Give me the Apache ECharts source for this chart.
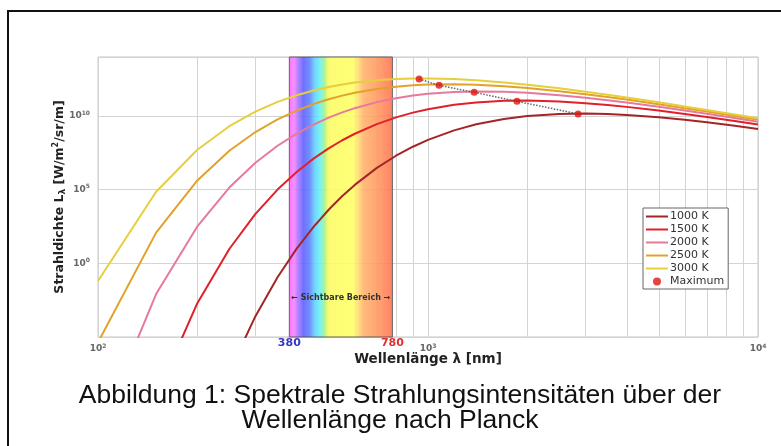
<!DOCTYPE html>
<html><head><meta charset="utf-8">
<script src="https://cdn.jsdelivr.net/npm/echarts@6/dist/echarts.min.js"></script>
<style>html,body{margin:0;padding:0;background:#fff}#c{width:781px;height:446px}</style>
</head><body><div id="c"></div>
<script>
// wavelength samples [nm]
const wavelengths = [100,150,200,250,300,350,400,450,500,550,600,700,800,900,1000,1200,1400,1700,2000,2500,3000,3500,4000,5000,6000,7000,8500,10000];
// spectral radiance values [W/m^2/sr/m]
const radiance1000K = [1.38e-43,1.23e-23,7.59e-14,4.39e-8,2.58e-4,0.113,9.89,298,4.31e3,3.66e4,2.09e5,2.98e6,2.00e7,8.17e7,2.38e8,1.05e9,2.70e9,6.28e9,9.93e9,1.37e10,1.45e10,1.34e10,1.16e10,8.07e9,5.43e9,3.69e9,2.15e9,1.32e9];
const radiance1500K = [9.33e-23,9.33e-10,1.96e-3,9.40,2.26e3,1.01e5,1.59e6,1.27e7,6.31e7,2.24e8,6.19e8,2.81e9,8.02e9,1.68e10,2.88e10,5.74e10,8.32e10,1.06e11,1.10e11,9.55e10,7.41e10,5.55e10,4.13e10,2.33e10,1.38e10,8.57e9,4.56e9,2.62e9];
const radiance2000K = [2.42e-12,8.26e-3,316,1.38e5,6.70e6,9.53e7,6.38e8,2.61e9,7.64e9,1.75e10,3.37e10,8.65e10,1.60e11,2.42e11,3.18e11,4.25e11,4.63e11,4.39e11,3.72e11,2.58e11,1.74e11,1.18e11,8.18e10,4.21e10,2.34e10,1.40e10,7.16e9,4.02e9];
const radiance2500K = [4.29e-6,121,4.21e5,4.36e7,8.11e8,5.82e9,2.33e10,6.40e10,1.36e11,2.40e11,3.72e11,6.76e11,9.70e11,1.20e12,1.34e12,1.42e12,1.31e12,1.04e12,7.87e11,4.81e11,2.99e11,1.93e11,1.29e11,6.25e10,3.38e10,1.97e10,9.84e9,5.43e9];
const radiance3000K = [6.27e-2,7.24e4,5.09e7,2.02e9,1.98e10,9.02e10,2.56e11,5.38e11,9.23e11,1.37e12,1.84e12,2.67e12,3.22e12,3.49e12,3.52e12,3.18e12,2.64e12,1.88e12,1.32e12,7.45e11,4.41e11,2.74e11,1.78e11,8.39e10,4.44e10,2.56e10,1.26e10,6.87e9];
// maxima (Wien)
const maxWavelengths = [940,1080,1380,1860,2850];
const maxValues = [3.2e12,1.2e12,4.0e11,9.8e10,1.38e10];
const seriesNames = ['1000 K','1500 K','2000 K','2500 K','3000 K'];
const maxName = 'Maximum';
const visibleRange = [380, 780];
const visibleLabel = '\u2190 Sichtbare Bereich \u2192';
const visibleLabelValue = 4.4e-3;
const minorGridX = [200,300,400,500,600,700,800,900,2000,3000,4000,5000,6000,7000,8000,9000];
const xRange = [100, 10000];
const yRange = [1e-5, 1e14];
const xAxisTitle = 'Wellenl\u00e4nge \u03bb [nm]';
const yAxisTitle = 'Strahldichte L{sub|\u03bb} [W/m{sup|2}/sr/m]';
const captionLine1 = 'Abbildung 1: Spektrale Strahlungsintensit\u00e4ten \u00fcber der';
const captionLine2 = 'Wellenl\u00e4nge nach Planck';

const colors = ['#a32626','#e0202a','#e7799a','#e2a22a','#e6cf3c'];
const radiance = [radiance1000K, radiance1500K, radiance2000K, radiance2500K, radiance3000K];

const chart = echarts.init(document.getElementById('c'));
const expLabel = v => '10{sup|' + Math.round(Math.log10(v)) + '}';
const supRich = {
  sup: {fontSize: 6, fontWeight: 'bold', color: '#666', padding: [0,0,6,0], fontFamily: 'DejaVu Sans'}
};

const curveSeries = seriesNames.map((n, k) => ({
  name: n, type: 'line', z: 3, symbol: 'none', smooth: false, clip: true,
  lineStyle: {color: colors[k], width: 2}, itemStyle: {color: colors[k]},
  data: wavelengths.map((w, i) => [w, radiance[k][i]])
}));

const bandGradient = new echarts.graphic.LinearGradient(0, 0, 1, 0, [
  {offset: 0, color: '#ff5cff'}, {offset: 0.05, color: '#f580ff'},
  {offset: 0.1, color: '#9570ff'}, {offset: 0.14, color: '#5a5cff'},
  {offset: 0.2, color: '#5f80ff'}, {offset: 0.25, color: '#60cfff'},
  {offset: 0.3, color: '#62f2f2'}, {offset: 0.345, color: '#a8f080'},
  {offset: 0.38, color: '#fbfb62'}, {offset: 0.62, color: '#ffff62'},
  {offset: 0.66, color: '#ffe070'}, {offset: 0.72, color: '#ffb068'},
  {offset: 0.84, color: '#ff9a60'}, {offset: 1, color: '#ff704e'}
]);

chart.setOption({
  animation: false,
  textStyle: {fontFamily: 'DejaVu Sans'},
  grid: {left: 98, right: 23, top: 57, bottom: 109, show: true, borderColor: '#c4c4c4', borderWidth: 1},
  xAxis: {
    type: 'log', logBase: 10, min: xRange[0], max: xRange[1],
    name: xAxisTitle, nameLocation: 'middle', nameGap: 15, nameMoveOverlap: false,
    nameTextStyle: {fontSize: 13.5, fontWeight: 'bold', color: '#222', fontFamily: 'DejaVu Sans'},
    axisLine: {show: false}, axisTick: {show: false},
    splitLine: {show: true, lineStyle: {color: '#d4d4d4', width: 1}},
    axisLabel: {margin: 6, formatter: expLabel, fontSize: 9, fontWeight: 'bold', color: '#666',
      rich: supRich}
  },
  yAxis: {
    type: 'log', logBase: 100000, min: yRange[0], max: yRange[1],
    name: yAxisTitle, nameLocation: 'middle', nameGap: 31, nameRotate: 90, nameMoveOverlap: false,
    nameTextStyle: {fontSize: 12.5, fontWeight: 'bold', color: '#222', fontFamily: 'DejaVu Sans',
      rich: {sub: {fontSize: 9, fontWeight: 'bold', color: '#222', padding: [0,0,-6,0]},
             sup: {fontSize: 8, fontWeight: 'bold', color: '#222', padding: [0,0,7,0]}}},
    axisLine: {show: false}, axisTick: {show: false},
    splitLine: {show: true, lineStyle: {color: '#d4d4d4', width: 1}},
    axisLabel: {margin: 8, fontSize: 9, fontWeight: 'bold', color: '#666', rich: supRich,
      formatter: v => { const e = Math.round(Math.log10(v)); return (e === 0 || e === 5 || e === 10) ? '10{sup|' + e + '}' : ''; }}
  },
  legend: {
    orient: 'vertical', left: 643, top: 208,
    data: seriesNames.map(n => ({name: n, itemStyle: {opacity: 0}})).concat([{name: maxName}]),
    itemWidth: 22, itemHeight: 8, itemGap: 0,
    padding: [2, 4, 1, 2],
    backgroundColor: '#fff', borderColor: '#666', borderWidth: 1,
    textStyle: {fontSize: 11, color: '#333', lineHeight: 13, padding: [0,0,0,-3], fontFamily: 'DejaVu Sans'}
  },
  series: [
    {
      name: 'grid-minor', type: 'custom', z: 1, silent: true,
      data: minorGridX.map(x => [x]),
      renderItem: (params, api) => {
        const p0 = api.coord([api.value(0), yRange[0]]);
        const p1 = api.coord([api.value(0), yRange[1]]);
        const x = Math.round(p0[0]) + 0.5;
        return {type: 'line', shape: {x1: x, y1: p0[1], x2: x, y2: p1[1]},
          style: {stroke: '#d4d4d4', lineWidth: 1}};
      }
    },
    {
      name: 'band', type: 'custom', z: 2, silent: true,
      data: [[visibleRange[0], visibleRange[1]]],
      renderItem: (params, api) => {
        const a = api.value(0), b = api.value(1);
        const p0 = api.coord([a, yRange[1]]);
        const p1 = api.coord([b, yRange[0]]);
        const pm = api.coord([Math.sqrt(a * b), visibleLabelValue]);
        return {type: 'group', children: [
          {type: 'rect', shape: {x: p0[0], y: p0[1], width: p1[0] - p0[0], height: p1[1] - p0[1]},
            style: {fill: bandGradient, opacity: 0.88, stroke: '#555', lineWidth: 1}},
          {type: 'text', x: p0[0], y: p1[1] + 1, style: {text: String(a), fontSize: 11, fontWeight: 'bold', fontFamily: 'DejaVu Sans', fill: '#3535c8', align: 'center', verticalAlign: 'top'}},
          {type: 'text', x: p1[0], y: p1[1] + 1, style: {text: String(b), fontSize: 11, fontWeight: 'bold', fontFamily: 'DejaVu Sans', fill: '#e03030', align: 'center', verticalAlign: 'top'}},
          {type: 'text', x: pm[0], y: pm[1], style: {text: visibleLabel, fontSize: 8, fontWeight: 'bold', fontFamily: 'DejaVu Sans', fill: '#333', align: 'center', verticalAlign: 'middle'}}
        ]};
      }
    },
    ...curveSeries,
    {
      name: 'wien', type: 'line', z: 4, symbol: 'none', silent: true,
      lineStyle: {color: '#666', width: 1.5, type: 'dotted'},
      data: maxWavelengths.map((w, i) => [w, maxValues[i]])
    },
    {
      name: maxName, type: 'scatter', z: 5, symbol: 'circle', symbolSize: 7,
      itemStyle: {color: '#e01414'},
      data: maxWavelengths.map((w, i) => [w, maxValues[i]])
    }
  ],
  graphic: [
    {type: 'line', shape: {x1: 7, y1: 11, x2: 781, y2: 11}, style: {stroke: '#111', lineWidth: 2}},
    {type: 'line', shape: {x1: 8, y1: 10, x2: 8, y2: 446}, style: {stroke: '#111', lineWidth: 2}},
    {type: 'text', x: 400, y: 396, style: {text: captionLine1, fontSize: 26.5, fontFamily: 'Liberation Sans', fill: '#111', align: 'center', verticalAlign: 'middle'}},
    {type: 'text', x: 390, y: 421, style: {text: captionLine2, fontSize: 26.5, fontFamily: 'Liberation Sans', fill: '#111', align: 'center', verticalAlign: 'middle'}}
  ]
});
</script></body></html>
